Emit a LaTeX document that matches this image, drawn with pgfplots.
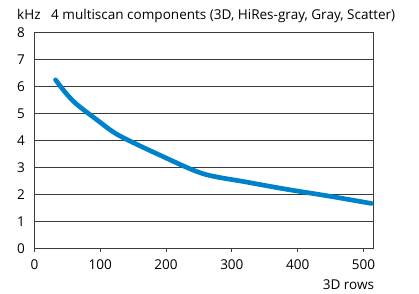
\documentclass[border=0pt]{standalone}
\usepackage{pgfplots}
\pgfplotsset{compat=1.18}
\usepackage{fontspec}
\setmainfont{Open Sans}
\definecolor{lineblue}{HTML}{0082CA}
\definecolor{gridc}{HTML}{3A3A3A}
\newcommand{\lblfont}{\fontsize{13.6}{15}\selectfont}
\begin{document}
\lblfont
\begin{tikzpicture}
\begin{axis}[
  scale only axis,
  width=339bp, height=216.5bp,
  xmin=0, xmax=515, ymin=0, ymax=8,
  xtick={0,100,200,300,400,500},
  ytick={0,1,2,3,4,5,6,7,8},
  ymajorgrids,
  grid style={gridc, line width=0.8pt},
  axis line style={gridc, line width=1pt},
  major tick length=3bp,
  xtick pos=bottom, ytick style={draw=none},
  xtick align=outside,
  tick style={gridc, line width=0.8pt},
  /pgf/number format/assume math mode=true,
  ticklabel style={font=\lblfont},
  xticklabel style={anchor=base, yshift=-18bp},
  yticklabel style={anchor=east, xshift=-5bp},
  clip=false,
]
\addplot[lineblue, line width=4.7pt, smooth, line cap=round] coordinates {
(32,6.25) (48,5.75) (64,5.35) (96,4.75) (128,4.2) (192,3.45) (256,2.78) (320,2.48) (384,2.2) (448,1.95) (512,1.68)
};
\coordinate (bl) at (rel axis cs:0,0);
\coordinate (tr) at (rel axis cs:1,1);
\node[anchor=base west, inner sep=0pt, font=\lblfont] at ([shift={(-17.5bp,13bp)}]rel axis cs:0,1) {kHz};
\node[anchor=base west, inner sep=0pt, font=\lblfont] at ([shift={(16.5bp,13bp)}]rel axis cs:0,1) {4 multiscan components (3D, HiRes-gray, Gray, Scatter)};
\node[anchor=base east, inner sep=0pt, font=\lblfont] at ([shift={(1bp,-41bp)}]rel axis cs:1,0) {3D rows};
\end{axis}
\pgfresetboundingbox
\path ([shift={(-34.5bp,-45bp)}]bl) rectangle ([shift={(45.7bp,32.5bp)}]tr);
\end{tikzpicture}
\end{document}
